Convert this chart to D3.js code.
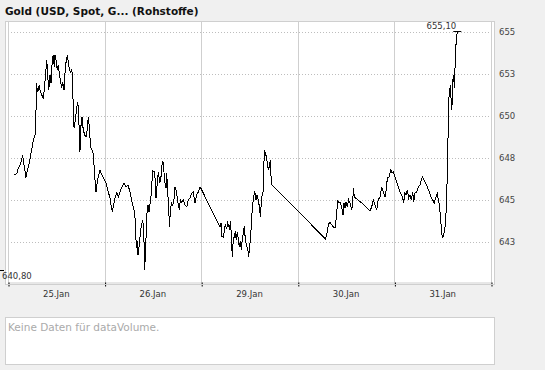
<!DOCTYPE html>
<html><head><meta charset="utf-8">
<script src="https://cdn.jsdelivr.net/npm/d3@7"></script>
<style>
html,body{margin:0;padding:0;background:#f0f0f0;}
svg{display:block;}
text{font-family:"DejaVu Sans",Verdana,sans-serif;}
</style></head><body>
<svg id="c" width="545" height="370"></svg>
<script>
const title = "Gold (USD, Spot, G... (Rohstoffe)";
const dayLabels = ["25.Jan","26.Jan","29.Jan","30.Jan","31.Jan"];
const yTickValues = [642.5,645,647.5,650,652.5,655];
const volumeMessage = "Keine Daten für dataVolume.";

// time in trading days from start of 25.Jan (fractional)
const times = [
0.065,0.090,0.107,0.131,0.152,0.158,0.186,0.194,0.220,0.245,
0.262,0.280,0.290,0.297,0.303,0.314,0.324,0.331,0.349,0.365,
0.373,0.390,0.401,0.411,0.421,0.428,0.435,0.445,0.459,0.469,
0.479,0.487,0.497,0.510,0.521,0.531,0.546,0.556,0.566,0.580,
0.590,0.600,0.614,0.624,0.635,0.649,0.659,0.670,0.676,0.686,
0.697,0.711,0.722,0.732,0.738,0.745,0.753,0.766,0.779,0.794,
0.807,0.821,0.831,0.842,0.849,0.859,0.870,0.880,0.887,0.901,
0.911,0.924,0.939,0.952,0.963,0.987,1.014,1.038,1.056,1.066,
1.080,1.094,1.108,1.126,1.142,1.159,1.180,1.201,1.222,1.242,
1.263,1.284,1.304,1.318,1.325,1.332,1.338,1.346,1.356,1.366,
1.377,1.387,1.394,1.405,1.415,1.421,1.429,1.439,1.449,1.460,
1.473,1.488,1.494,1.504,1.519,1.532,1.542,1.556,1.573,1.587,
1.597,1.608,1.622,1.636,1.643,1.653,1.664,1.670,1.677,1.690,
1.705,1.718,1.729,1.739,1.749,1.763,1.773,1.784,1.798,1.815,
1.832,1.850,1.866,1.884,1.905,1.918,1.936,1.954,1.970,1.988,
2.005,
2.195,2.205,2.215,2.228,2.239,2.249,2.264,2.274,2.291,2.305,
2.316,2.322,2.332,2.343,2.353,2.363,2.374,2.384,2.394,2.405,
2.415,2.426,2.436,2.446,2.457,2.471,2.481,2.492,2.502,2.512,
2.523,2.533,2.543,2.554,2.567,2.578,2.591,2.602,2.612,2.622,
2.633,2.643,2.653,2.664,2.674,2.684,2.695,2.705,2.715,2.726,
2.733,
3.285,3.299,3.316,3.333,3.351,3.367,3.385,3.402,3.413,3.426,
3.437,3.454,3.468,3.478,3.489,3.499,3.512,3.527,3.540,3.558,
3.568,3.575,3.585,3.595,3.662,3.713,3.747,3.765,3.781,3.799,
3.817,3.833,3.851,3.868,3.885,3.903,3.920,3.926,3.947,3.962,
3.975,3.989,4.006,4.023,4.040,4.058,4.075,4.086,4.096,4.107,
4.120,4.134,4.148,4.161,4.175,4.189,4.200,4.213,4.231,4.247,
4.265,4.282,4.292,4.316,4.340,4.361,4.379,4.396,4.413,4.427,
4.444,4.454,4.465,4.475,4.485,4.496,4.506,4.521,4.531,4.537,
4.545,4.552,4.555,4.562,4.568,4.579,4.586,4.593,4.599,4.607,
4.614,4.620,4.627,4.634,4.645,4.651
];
const prices = [
646.53,646.54,646.90,647.14,647.68,647.38,646.31,646.60,647.20,647.98,
648.57,648.87,650.36,651.97,651.44,651.56,651.86,651.56,651.26,651.08,
651.44,652.57,653.35,652.45,651.56,651.86,652.45,651.97,653.35,653.65,
652.93,653.65,653.35,652.75,653.05,652.57,651.97,651.68,652.03,651.56,
652.57,653.17,653.65,653.23,652.75,652.63,652.75,652.45,649.59,649.29,
649.77,650.48,650.84,650.18,648.87,647.86,649.29,649.95,649.17,648.87,
648.75,649.17,649.95,649.35,648.69,648.10,647.98,647.80,647.38,646.19,
645.47,646.07,646.49,646.78,646.60,646.31,646.01,645.47,645.11,644.69,
644.28,644.69,645.11,645.41,645.17,645.47,645.77,646.01,645.77,645.89,
645.47,644.87,644.40,643.80,642.61,642.13,642.55,641.71,642.19,642.73,
643.32,643.62,643.80,643.20,640.80,641.71,642.78,644.22,644.69,644.28,
644.87,645.59,646.72,646.66,646.66,645.11,645.77,646.66,646.01,646.49,
647.26,647.20,646.07,645.71,646.60,645.41,644.57,643.38,643.98,644.81,
644.69,644.99,645.77,645.59,645.23,644.69,644.40,644.99,644.87,644.99,
644.69,644.57,644.99,645.11,645.41,645.47,644.81,645.29,645.47,645.77,
645.59,
643.36,643.60,642.80,642.77,643.10,643.50,643.30,643.60,643.30,643.70,
642.21,641.61,642.61,642.80,643.10,642.61,643.10,642.61,642.21,642.51,
642.01,642.71,643.01,643.40,642.61,642.21,642.11,641.61,642.25,642.80,
644.00,644.69,645.19,645.49,645.00,645.29,645.00,644.59,644.00,644.80,
645.39,645.49,647.98,647.78,647.58,647.18,646.78,646.98,647.38,645.99,
645.89,
642.67,642.90,643.50,643.68,643.50,643.38,643.32,644.10,644.99,644.81,
644.87,644.57,644.10,644.81,644.52,644.87,644.57,644.99,644.81,644.40,
644.69,645.71,645.17,645.11,644.81,644.52,644.34,644.57,644.99,644.69,
644.40,644.99,645.17,645.77,645.47,645.17,645.77,646.31,646.37,646.78,
646.60,646.66,646.37,646.07,645.77,645.47,645.29,645.11,644.81,645.41,
645.29,645.59,645.11,645.29,644.99,645.47,644.87,645.41,645.47,645.77,
645.89,646.25,646.37,646.07,645.77,645.47,645.17,644.99,644.81,645.11,
645.35,644.99,644.69,644.10,643.38,642.73,642.78,643.20,643.80,644.52,
646.01,647.38,648.69,650.96,651.26,651.86,651.08,650.36,650.84,652.27,
652.45,651.68,652.75,654.06,654.66,655.10
];
const yDomain = [639.97, 655.67];

const svg = d3.select("#c");
const plot = {left:8, right:491, top:21, bottom:284};
const x = d3.scaleLinear().domain([0, dayLabels.length]).range([plot.left, plot.right]);
const y = d3.scaleLinear().domain(yDomain).range([plot.bottom, plot.top]);
const px = v => Math.round(v) + 0.5;

svg.append("rect").attr("width",545).attr("height",370).attr("fill","#f0f0f0");

// title
svg.append("text").attr("x",5).attr("y",15).attr("font-size","10.5px").attr("font-weight","bold")
  .attr("fill","#111").text(title);

// frame
svg.append("rect").attr("x",5.5).attr("y",21.5).attr("width",489).attr("height",plot.bottom-21)
  .attr("fill","#fff").attr("stroke","#cfcfcf");

// horizontal grid
svg.append("g").selectAll("line").data(yTickValues).join("line")
  .attr("x1",plot.left).attr("x2",plot.right)
  .attr("y1",d=>px(y(d))).attr("y2",d=>px(y(d)))
  .attr("stroke","#bdbdbd").attr("stroke-dasharray","1,2");

// vertical grid (day boundaries)
svg.append("g").selectAll("line").data(d3.range(0, dayLabels.length+1)).join("line")
  .attr("x1",d=>px(x(d))).attr("x2",d=>px(x(d)))
  .attr("y1",plot.top).attr("y2",plot.bottom)
  .attr("stroke","#cfcfcf");

// bottom axis
const xAxis = d3.axisBottom(x).tickValues(d3.range(0, dayLabels.length+1))
  .tickFormat("").tickSizeInner(4).tickSizeOuter(0);
const gx = svg.append("g").attr("transform",`translate(0.5,${plot.bottom-1.5})`).call(xAxis);
gx.select(".domain").attr("stroke","#cfcfcf");
gx.selectAll(".tick line").attr("stroke","#000");
svg.append("line").attr("x1",5).attr("x2",495).attr("y1",plot.bottom+0.5).attr("y2",plot.bottom+0.5).attr("stroke","#cfcfcf");

svg.append("g").selectAll("text").data(dayLabels).join("text")
  .attr("x",(d,i)=>x(i+0.5)).attr("y",297).attr("text-anchor","middle")
  .attr("font-size","8.5px").attr("fill","#333").text(d=>d);

// right axis labels
const yAxis = d3.axisRight(y).tickValues(yTickValues).tickFormat(d3.format(".0f")).tickSize(0).tickPadding(0);
const gy = svg.append("g").attr("transform","translate(499,0)").call(yAxis);
gy.select(".domain").remove();
gy.selectAll("text").attr("font-size","8.5px").attr("fill","#444")
  .attr("font-family","'DejaVu Sans',Verdana,sans-serif");

// price line
const line = d3.line().x(i=>x(times[i])).y(i=>y(prices[i]));
svg.append("path").datum(d3.range(prices.length)).attr("d",line)
  .attr("fill","none").attr("stroke","#000").attr("stroke-width",1)
  .attr("shape-rendering","crispEdges");

// min / max markers
const fmt = v => d3.format(".2f")(v).replace(".",",");
const iMax = d3.maxIndex(prices), iMin = d3.minIndex(prices);
const xm = x(times[iMax]), ym = y(prices[iMax]);
svg.append("line").attr("x1",xm-4).attr("x2",xm+4).attr("y1",px(ym)).attr("y2",px(ym)).attr("stroke","#000");
svg.append("text").attr("x",xm-1).attr("y",ym-1.5).attr("text-anchor","end")
  .attr("font-size","8.5px").attr("fill","#333").text(fmt(prices[iMax]));
const yn = y(prices[iMin]);
svg.append("line").attr("x1",0).attr("x2",4).attr("y1",px(yn)).attr("y2",px(yn)).attr("stroke","#000");
svg.append("text").attr("x",2).attr("y",yn+9).attr("font-size","8.5px").attr("fill","#333").text(fmt(prices[iMin]));

// volume panel
svg.append("rect").attr("x",5.5).attr("y",317.5).attr("width",489).attr("height",47)
  .attr("fill","#fff").attr("stroke","#cfcfcf");
svg.append("text").attr("x",8).attr("y",331).attr("font-size","10.5px").attr("fill","#aaa").text(volumeMessage);
</script>
</body></html>
